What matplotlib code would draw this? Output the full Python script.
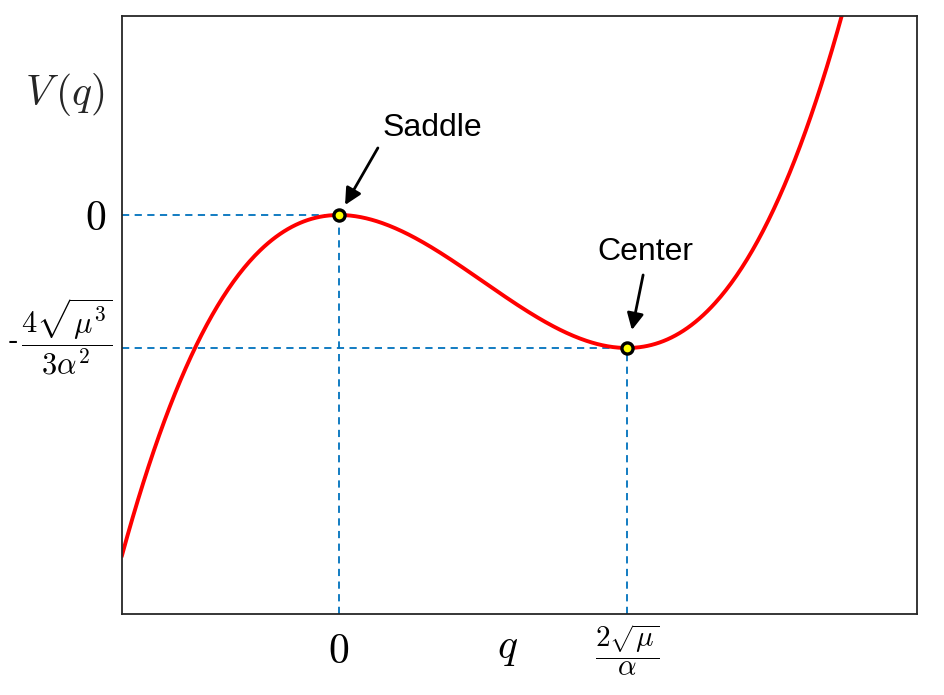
import numpy as np
import matplotlib
matplotlib.use("Agg")
import matplotlib.pyplot as plt
from matplotlib.transforms import offset_copy

plt.rcParams['mathtext.fontset'] = 'cm'
plt.rcParams['font.family'] = ['Liberation Sans', 'DejaVu Sans']

# Normalised potential V = A(2q^3 - 3q^2): saddle at q=0, center at q=1
q_min, q_max = -0.7535, 2.007
v_min, v_max = -3.0, 1.496
saddle = (0.0, 0.0)
center = (1.0, -1.0)
xtick_pos = [0.0, 1.0]
xtick_labels = [r'$0$', r'$\dfrac{2\sqrt{\mu}}{\alpha}$']
ytick_pos = [-1.0, 0.0]
ytick_labels = [r'-$\,\dfrac{4\sqrt{\mu^3}}{3\alpha^2}$', r'$0$']

q = np.linspace(q_min, q_max, 600)
V = 2 * q**3 - 3 * q**2

fig = plt.figure(figsize=(9.45, 6.95), dpi=100)
ax = fig.add_axes([122/945, 1-614/695, 795/945, 598/695])
blue = '#0072BD'
dash = dict(ls='--', color=blue, lw=1.3, dashes=(4, 3))
ax.plot([q_min, saddle[0]], [saddle[1], saddle[1]], **dash)
ax.plot([saddle[0], saddle[0]], [v_min, saddle[1]], **dash)
ax.plot([q_min, center[0]], [center[1], center[1]], **dash)
ax.plot([center[0], center[0]], [v_min, center[1]], **dash)
ax.plot(q, V, color='red', lw=2.8)
for p in (saddle, center):
    ax.plot(p[0], p[1], 'o', ms=8, mfc='yellow', mec='black', mew=2.4, zorder=5)

ax.set_xlim(q_min, q_max)
ax.set_ylim(v_min, v_max)
ax.set_xticks(xtick_pos)
ax.set_yticks(ytick_pos)
ax.set_xticklabels([])
ax.set_yticklabels([])
ax.tick_params(length=0)
for s in ax.spines.values():
    s.set_color('#262626')
    s.set_linewidth(1.3)

# tick labels placed at tick positions through the axes' transforms
xt = ax.get_xaxis_transform()
yt = ax.get_yaxis_transform()
ax.text(xtick_pos[0], 0, xtick_labels[0], fontsize=30, ha='center', va='top',
        transform=offset_copy(xt, fig=fig, x=0, y=-18, units='dots'))
ax.text(xtick_pos[1], 0, xtick_labels[1], fontsize=21, ha='center', va='top',
        transform=offset_copy(xt, fig=fig, x=0, y=-8, units='dots'))
ax.text(0, ytick_pos[1], ytick_labels[1], fontsize=30, ha='right', va='center',
        transform=offset_copy(yt, fig=fig, x=-16, y=-4, units='dots'))
ax.text(0, ytick_pos[0], ytick_labels[0], fontsize=22, ha='right', va='center',
        transform=offset_copy(yt, fig=fig, x=-10, y=11, units='dots'))

ax.text(0.325, 0.655, 'Saddle', fontsize=23, ha='center', va='center')
ax.annotate('', xy=(0.021, 0.075), xytext=(0.135, 0.504),
            arrowprops=dict(arrowstyle='-|>', color='black', lw=2.0,
                            mutation_scale=25, shrinkA=0, shrinkB=0))
ax.text(1.065, -0.28, 'Center', fontsize=23, ha='center', va='center')
ax.annotate('', xy=(1.017, -0.865), xytext=(1.056, -0.451),
            arrowprops=dict(arrowstyle='-|>', color='black', lw=2.0,
                            mutation_scale=25, shrinkA=0, shrinkB=0))

fig.text(508/945, 1-648/695, r'$q$', fontsize=30, ha='center', va='center')
fig.text(65/945, 1-95/695, r'$V\,(q)$', fontsize=30, ha='center', va='center', color='#262626')

fig.savefig('out.png', dpi=100)
